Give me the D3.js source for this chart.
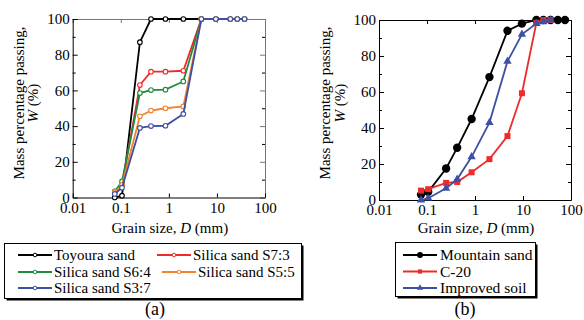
<!DOCTYPE html>
<html>
<head>
<meta charset="utf-8">
<script src="https://cdn.jsdelivr.net/npm/d3@7"></script>
<style>
  body { margin: 0; background: #fff; }
</style>
</head>
<body>
<svg id="chart" width="584" height="320"></svg>
<script>
// sieve sizes (mm)
var sievesA = [0.075, 0.106, 0.25, 0.425, 0.85, 2, 4.75, 9.5, 19, 26.5, 37.5];
var sievesB = [0.075, 0.106, 0.25, 0.425, 0.85, 2, 4.75, 9.5, 19, 26.5, 37.5, 53, 75];

// panel (a) percent passing
var toyoura = [0, 1, 87, 100, 100, 100, 100];
var silicaS73 = [3, 7, 63, 70.5, 70.5, 71, 100, 100, 100, 100, 100];
var silicaS64 = [3.5, 9, 58.5, 60.2, 60.4, 65, 100, 100, 100, 100, 100];
var silicaS55 = [3, 7, 45.5, 48.7, 50, 51, 100, 100, 100, 100, 100];
var silicaS37 = [2, 5.5, 39, 40, 40.2, 46.8, 100, 100, 100, 100, 100];

// panel (b) percent passing
var mountainSand = [3, 4.5, 17.5, 29, 45, 68.3, 94, 98, 100, 100, 100, 100, 100];
var c20 = [5.2, 6, 9.5, 10, 15.4, 22.7, 35.5, 59.3, 98.5, 100, 100];
var improvedSoil = [0, 1, 6.5, 11.5, 24, 43, 77, 92, 98, 99, 100];

var xTicks = [0.01, 0.1, 1, 10, 100];
var yTicks = [0, 20, 40, 60, 80, 100];
var yMinor = [10, 30, 50, 70, 90];

var seriesA = [
  {name: "Toyoura sand", values: toyoura, color: "#000000"},
  {name: "Silica sand S7:3", values: silicaS73, color: "#ee2a2a"},
  {name: "Silica sand S6:4", values: silicaS64, color: "#1f8a3e"},
  {name: "Silica sand S5:5", values: silicaS55, color: "#f2822c"},
  {name: "Silica sand S3:7", values: silicaS37, color: "#3d50a3"}
];
var seriesB = [
  {name: "Mountain sand", values: mountainSand, color: "#000000", shape: "circle"},
  {name: "C-20", values: c20, color: "#ee2a2a", shape: "square"},
  {name: "Improved soil", values: improvedSoil, color: "#3d50a3", shape: "triangle"}
];

var FONT = "'Liberation Serif', 'Times New Roman', Times, serif";
var svg = d3.select("#chart");
var fmt = function(d) { return d < 1 ? String(d) : d3.format("d")(d); };

function drawFrame(g, x, y, frameColor) {
  var x0 = x.range()[0], x1 = x.range()[1], y0 = y.range()[0], y1 = y.range()[1];

  // top and right (no labels)
  var top = g.append("g").attr("transform", "translate(0," + y1 + ")")
    .call(d3.axisTop(x).tickValues(xTicks).tickSizeInner(-4).tickSizeOuter(0).tickFormat(""));
  var right = g.append("g").attr("transform", "translate(" + x1 + ",0)")
    .call(d3.axisRight(y).tickValues(yTicks).tickSizeInner(-5).tickSizeOuter(0).tickFormat(""));
  g.append("g").attr("transform", "translate(" + x1 + ",0)")
    .call(d3.axisRight(y).tickValues(yMinor).tickSizeInner(-3).tickSizeOuter(0).tickFormat(""))
    .select(".domain").remove();
  top.selectAll("path,line").attr("stroke", frameColor);
  right.selectAll("path,line").attr("stroke", frameColor);

  // bottom
  g.append("g").attr("transform", "translate(0," + y0 + ")")
    .call(d3.axisBottom(x).tickValues(xTicks).tickSizeInner(-4).tickSizeOuter(0)
      .tickPadding(4.5).tickFormat(fmt));

  // left
  g.append("g").attr("transform", "translate(" + x0 + ",0)")
    .call(d3.axisLeft(y).tickValues(yTicks).tickSizeInner(-5).tickSizeOuter(0).tickPadding(3));
  g.append("g").attr("transform", "translate(" + x0 + ",0)")
    .call(d3.axisLeft(y).tickValues(yMinor).tickSizeInner(-3).tickSizeOuter(0).tickFormat(""))
    .select(".domain").remove();

  g.selectAll(".tick text").attr("fill", "#000").attr("font-size", 15)
    .attr("font-family", FONT).style("font-family", FONT);
  g.selectAll(".tick line").attr("stroke-width", 1);
}

function label(sel) {
  return sel.append("text").attr("font-family", FONT).style("font-family", FONT)
    .attr("font-size", 15).attr("fill", "#000");
}

function axisTitles(g, x, ty1, ty2) {
  var cx = (x.range()[0] + x.range()[1]) / 2;
  var t = label(g).attr("x", cx + 1).attr("y", 233).attr("text-anchor", "middle");
  t.append("tspan").text("Grain size, ");
  t.append("tspan").attr("font-style", "italic").text("D");
  t.append("tspan").text(" (mm)");

  var cy = 103;
  label(g).attr("transform", "translate(" + ty1 + "," + cy + ") rotate(-90)")
    .attr("text-anchor", "middle").text("Mass percentage passing,");
  var t2 = label(g).attr("transform", "translate(" + ty2 + "," + cy + ") rotate(-90)")
    .attr("text-anchor", "middle");
  t2.append("tspan").attr("font-style", "italic").text("W");
  t2.append("tspan").text(" (%)");
}

// ---- panel (a)
var xA = d3.scaleLog().domain([0.01, 100]).range([72.7, 265]);
var yA = d3.scaleLinear().domain([0, 100]).range([197.5, 19]);
var gA = svg.append("g");
drawFrame(gA, xA, yA, "#777");

var lineA = d3.line()
  .x(function(d) { return xA(d[0]); })
  .y(function(d) { return yA(d[1]); });

seriesA.forEach(function(s) {
  var pts = s.values.map(function(v, i) { return [sievesA[i], v]; });
  gA.append("path").datum(pts).attr("d", lineA)
    .attr("fill", "none").attr("stroke", s.color).attr("stroke-width", 1.8);
  gA.selectAll(null).data(pts).enter().append("circle")
    .attr("cx", function(d) { return xA(d[0]); })
    .attr("cy", function(d) { return yA(d[1]); })
    .attr("r", 2.3).attr("fill", "#fff").attr("stroke", s.color).attr("stroke-width", 1.1);
});
axisTitles(gA, xA, 24, 38);

// ---- panel (b)
var xB = d3.scaleLog().domain([0.01, 100]).range([379, 571]);
var yB = d3.scaleLinear().domain([0, 100]).range([200, 20]);
var gB = svg.append("g");
drawFrame(gB, xB, yB, "#000");

var lineB = d3.line()
  .x(function(d) { return xB(d[0]); })
  .y(function(d) { return yB(d[1]); });

function marker(sel, shape, color, size) {
  var sym = shape === "circle" ? d3.symbolCircle : shape === "square" ? d3.symbolSquare : d3.symbolTriangle;
  sel.append("path").attr("d", d3.symbol().type(sym).size(size)).attr("fill", color);
}

seriesB.forEach(function(s) {
  var pts = s.values.map(function(v, i) { return [sievesB[i], v]; });
  gB.append("path").datum(pts).attr("d", lineB)
    .attr("fill", "none").attr("stroke", s.color).attr("stroke-width", 1.8);
  var size = s.shape === "circle" ? 55 : s.shape === "square" ? 36 : 30;
  gB.selectAll(null).data(pts).enter().append("g")
    .attr("transform", function(d) { return "translate(" + xB(d[0]) + "," + yB(d[1]) + ")"; })
    .each(function() { marker(d3.select(this), s.shape, s.color, size); });
});
axisTitles(gB, xB, 330, 345);

// ---- legends
function legendBox(x0, y0, w, h) {
  svg.append("rect").attr("x", x0 + 2).attr("y", y0 + 2).attr("width", w).attr("height", h).attr("fill", "#000");
  svg.append("rect").attr("x", x0).attr("y", y0).attr("width", w).attr("height", h)
    .attr("fill", "#fff").attr("stroke", "#000").attr("stroke-width", 1);
}

legendBox(4.5, 243.5, 297, 55);
var legPosA = [[18, 255], [157, 255], [18, 272], [162, 272], [18, 288]];
seriesA.forEach(function(s, i) {
  var p = legPosA[i];
  svg.append("line").attr("x1", p[0]).attr("x2", p[0] + 34).attr("y1", p[1]).attr("y2", p[1])
    .attr("stroke", s.color).attr("stroke-width", 1.8);
  svg.append("circle").attr("cx", p[0] + 17).attr("cy", p[1]).attr("r", 1.8)
    .attr("fill", "#fff").attr("stroke", s.color).attr("stroke-width", 1);
  label(svg).attr("x", p[0] + 36).attr("y", p[1] + 5).text(s.name);
});

legendBox(395.5, 242.5, 140, 54);
seriesB.forEach(function(s, i) {
  var yy = [255, 271.5, 288][i];
  svg.append("line").attr("x1", 403).attr("x2", 437).attr("y1", yy).attr("y2", yy)
    .attr("stroke", s.color).attr("stroke-width", 1.8);
  var g = svg.append("g").attr("transform", "translate(420," + yy + ")");
  marker(g, s.shape, s.color, s.shape === "circle" ? 28 : 18);
  label(svg).attr("x", 440).attr("y", yy + 5).attr("font-size", 15.5).text(s.name);
});

label(svg).attr("x", 155).attr("y", 315).attr("text-anchor", "middle").attr("font-size", 18).text("(a)");
label(svg).attr("x", 465).attr("y", 315).attr("text-anchor", "middle").attr("font-size", 18).text("(b)");
</script>
</body>
</html>
